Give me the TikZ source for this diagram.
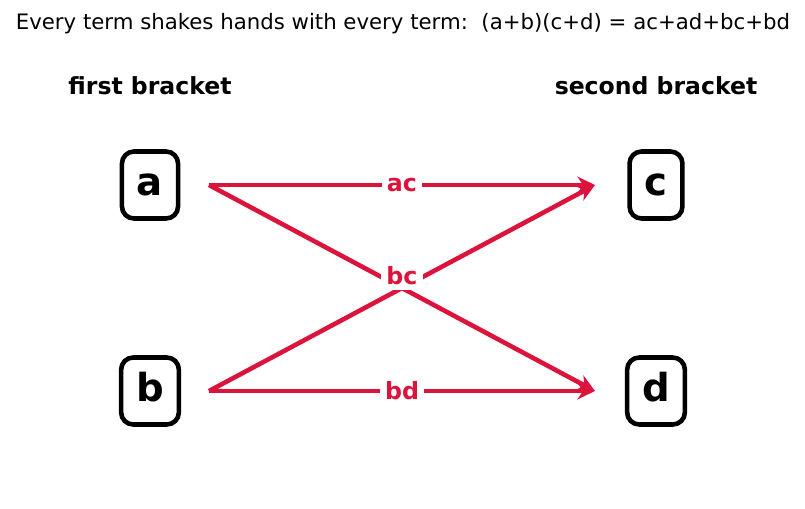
\documentclass[tikz,border=0pt]{standalone}
\usepackage{fontspec}
\setmainfont{DejaVu Sans}
\usepackage{tikz}
\usetikzlibrary{arrows.meta, positioning}
\definecolor{crimson}{RGB}{220,20,60}
\tikzstyle{term} = [rectangle, rounded corners=0.24cm, draw=black, line width=2.6pt, inner xsep=0.3cm, minimum height=1.34cm, font=\bfseries\fontsize{22}{26}\selectfont, text height=12.3pt, text depth=0pt]
\tikzstyle{heading} = [font=\bfseries\fontsize{13.4}{16}\selectfont]
\tikzstyle{shake} = [crimson, line width=2.6pt, -{Stealth[length=10pt, width=9.5pt]}]
\tikzstyle{product} = [fill=white, text=crimson, inner sep=3pt, font=\bfseries\fontsize{13.5}{16}\selectfont]

\begin{document}
\begin{tikzpicture}[x=0.02cm, y=-0.02cm]
\useasboundingbox (0,0) rectangle (805,508);

\node (title) at (403,24) {\fontsize{12.1}{14}\selectfont Every term shakes hands with every term:\ \ (a+b)(c+d) = ac+ad+bc+bd};
\node (left) [heading] at (150,86) {first bracket};
\node (right) [heading] at (656,86) {second bracket};

\node (a) [term] at (150,185) {a};
\node (b) [term] at (150,391) {b};
\node (c) [term] at (656,185) {c};
\node (d) [term] at (656,391) {d};

\coordinate (aout) at (209,185);
\coordinate (bout) at (209,391);
\coordinate (cin) at (595,185);
\coordinate (din) at (595,391);

\draw [shake] (aout) -- (cin);
\draw [shake] (aout) -- (din);
\draw [shake] (bout) -- (cin);
\draw [shake] (bout) -- (din);

\node (ac) [product] at (402,185) {ac};
\node (bc) [product] at (402,276) {bc};
\node (bd) [product] at (402,391) {bd};

\end{tikzpicture}
\end{document}
